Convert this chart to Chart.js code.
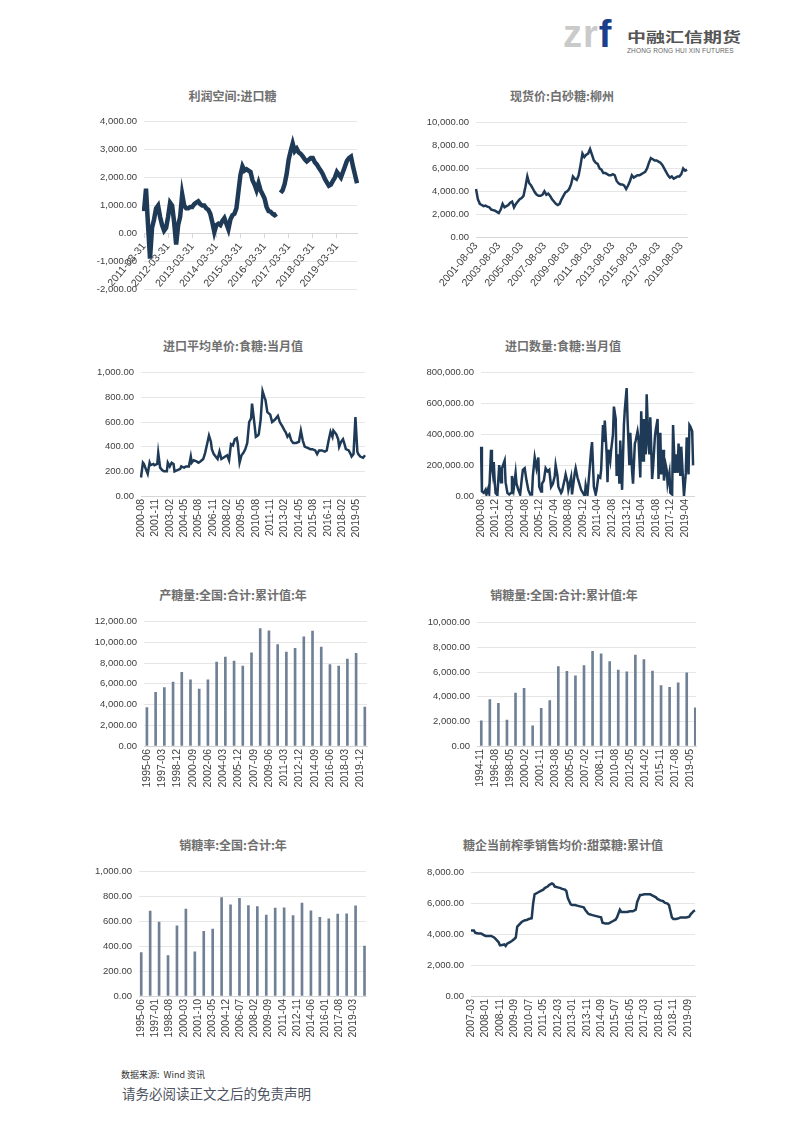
<!DOCTYPE html>
<html lang="zh-CN">
<head>
<meta charset="utf-8">
<title>食糖数据图表</title>
<script src="https://cdn.jsdelivr.net/npm/chart.js@4.4.1/dist/chart.umd.min.js"></script>
<style>
  html, body { margin: 0; padding: 0; background: #fff; }
  body { width: 793px; height: 1122px; position: relative; overflow: hidden; font-family: "Noto Sans CJK SC", "Noto Sans", sans-serif; }
  canvas { position: absolute; }
  .ttl { position: absolute; width: 320px; text-align: center; font-size: 12px; line-height: 17px; font-weight: bold; color: #6f6f6f; white-space: nowrap; }
  .logo { position: absolute; left: 563px; top: 15px; font: bold 38px/38px "Liberation Sans", Arial, sans-serif; white-space: nowrap; }
  .logo .zr { color: #cacaca; letter-spacing: 1px; }
  .logo .f { color: #1b3f8a; }
  .cn { position: absolute; left: 627px; top: 29px; font-size: 19px; line-height: 19px; font-weight: bold; color: #555; transform: scaleY(0.72); transform-origin: top left; white-space: nowrap; }
  .en { position: absolute; left: 627px; top: 47px; font: 6.5px/7px "Liberation Sans", Arial, sans-serif; color: #666; letter-spacing: 0.15px; white-space: nowrap; }
  .src { position: absolute; left: 121px; top: 1068px; font-size: 9px; color: #333; white-space: nowrap; }
  .note { position: absolute; left: 122px; top: 1083px; font-size: 13.5px; color: #4d5360; white-space: nowrap; }
</style>
</head>
<body>
<div class="logo"><span class="zr">zr</span><span class="f">f</span></div>
<div class="cn">中融汇信期货</div>
<div class="en">ZHONG RONG HUI XIN FUTURES</div>

<canvas id="c1"></canvas>
<canvas id="c2"></canvas>
<canvas id="c3"></canvas>
<canvas id="c4"></canvas>
<canvas id="c5"></canvas>
<canvas id="c6"></canvas>
<canvas id="c7"></canvas>
<canvas id="c8"></canvas>

<div class="src">数据来源:&nbsp; Wind 资讯</div>
<div class="note">请务必阅读正文之后的免责声明</div>

<script>
// 利润空间:进口糖 —— 月度取值, 2011-03 起
const spreadTicks = ['2011-03-31', '2012-03-31', '2013-03-31', '2014-03-31', '2015-03-31', '2016-03-31', '2017-03-31', '2018-03-31', '2019-03-31'];
const spreadValues = [
  800, 1600, 300, -900, 200, 500, 900, 1000, 600, 300,
  100, 200, 600, 1100, 1000, 400, -400, 300, 600, 1400,
  1000, 900, 900, 950, 950, 1050, 1100, 1150, 1050, 1000,
  1000, 900, 850, 700, 400, 50, 300, 350, 300, 450,
  550, 350, 150, 500, 650, 700, 900, 1500, 2100, 2400,
  2250, 2300, 2250, 2200, 1900, 1750, 1550, 1800, 1550, 1400,
  1250, 950, 800, 780, 700, 650, 700, null, 1450, 1550,
  1770, 2130, 2650, 2950, 3220, 2950, 3040, 2900, 2850, 2760,
  2650, 2580, 2640, 2700, 2700, 2550, 2470, 2350, 2250, 2120,
  1950, 1830, 1710, 1750, 1880, 2000, 2200, 2100, 2000, 2200,
  2400, 2600, 2700, 2750, 2400, 2100, 1800
];

// 现货价:白砂糖:柳州 —— 每两个月取值, 2001-08 起
const spotTicks = ['2001-08-03', '2003-08-03', '2005-08-03', '2007-08-03', '2009-08-03', '2011-08-03', '2013-08-03', '2015-08-03', '2017-08-03', '2019-08-03'];
const spotValues = [
  4200, 3300, 2900, 2800, 2700, 2750, 2650, 2600, 2400, 2350,
  2300, 2200, 2100, 2400, 2900, 2600, 2700, 2800, 3000, 3100,
  2600, 2900, 3100, 3300, 3400, 3600, 4400, 5300, 4700, 4500,
  4200, 3900, 3700, 3600, 3600, 3700, 4000, 3700, 3800, 3600,
  3300, 3100, 2900, 2800, 2900, 3300, 3600, 3900, 4000, 4200,
  4600, 5300, 5100, 5000, 5400, 6300, 7300, 7000, 7200, 7300,
  7700, 7200, 6700, 6500, 6400, 6000, 5900, 5600, 5600, 5500,
  5400, 5400, 5500, 5400, 4900, 4700, 4600, 4600, 4500, 4200,
  4500, 4900, 5400, 5200, 5300, 5400, 5400, 5500, 5600, 5700,
  6000, 6500, 6900, 6800, 6700, 6700, 6600, 6500, 6300, 6000,
  5700, 5400, 5200, 5300, 5100, 5200, 5300, 5300, 5500, 6000,
  5800, 5900
];

// 进口平均单价:食糖:当月值 —— 月份序号(2000-08 = 0)
const importPriceTicks = ['2000-08', '2001-11', '2003-02', '2004-05', '2005-08', '2006-11', '2008-02', '2009-05', '2010-08', '2011-11', '2013-02', '2014-05', '2015-08', '2016-11', '2018-02', '2019-05'];
const importPriceMonths = [
  0, 2, 3, 6, 7, 9, 10, 13, 14, 17, 18, 20, 22, 24, 27, 28, 30, 32, 34, 35,
  38, 41, 42, 45, 47, 50, 52, 53, 55, 58, 60, 62, 65, 67, 69, 71, 73, 74, 76, 79,
  80, 82, 84, 86, 88, 90, 92, 94, 96, 98, 100, 101, 103, 105, 107, 109, 111, 113, 115, 116,
  118, 120, 122, 123, 125, 127, 129, 130, 132, 135, 137, 140, 143, 145, 148, 150, 151, 153, 155, 157,
  159, 162, 165, 167, 169, 171, 174, 177, 179, 182, 184, 186, 189, 192, 194, 196, 198, 200, 201, 204,
  206, 207, 209, 211, 213, 214, 217, 219, 220, 222, 224, 226, 227, 229, 232, 234
];
const importPriceValues = [
  150, 270, 260, 200, 180, 270, 250, 260, 250, 260, 350, 230, 210, 200, 200, 270, 240, 270, 260, 200,
  210, 220, 240, 230, 240, 240, 320, 270, 290, 280, 270, 280, 300, 350, 420, 490, 440, 380, 340, 310,
  300, 360, 300, 310, 320, 330, 290, 420, 410, 460, 470, 430, 270, 330, 350, 380, 430, 600, 630, 750,
  620, 480, 490, 500, 620, 850, 800, 780, 680, 660, 600, 620, 650, 600, 560, 530, 520, 480, 500, 450,
  430, 430, 440, 530, 450, 400, 390, 380, 380, 370, 340, 370, 370, 360, 370, 450, 520, 480, 530, 500,
  460, 400, 440, 460, 410, 380, 370, 340, 320, 340, 640, 360, 340, 320, 310, 330
];

// 进口数量:食糖:当月值 —— 月份序号(2000-08 = 0)
const importQtyTicks = ['2000-08', '2001-12', '2003-04', '2004-08', '2005-12', '2007-04', '2008-08', '2009-12', '2011-04', '2012-08', '2013-12', '2015-04', '2016-08', '2017-12', '2019-04'];
const importQtyMonths = [
  0, 1, 3, 5, 6, 8, 9, 11, 12, 13, 14, 15, 16, 18, 20, 22, 23, 26, 27, 29,
  31, 33, 34, 36, 38, 39, 41, 43, 45, 46, 48, 50, 52, 54, 56, 57, 59, 61, 63, 64,
  66, 67, 69, 71, 73, 75, 77, 79, 81, 82, 84, 85, 88, 89, 92, 93, 95, 96, 99, 100,
  103, 104, 106, 108, 110, 112, 114, 115, 117, 119, 121, 122, 124, 126, 127, 129, 131, 132, 134, 135,
  136, 138, 139, 140, 142, 143, 145, 146, 148, 149, 151, 152, 153, 155, 157, 158, 160, 161, 163, 164,
  166, 167, 169, 170, 172, 173, 175, 176, 178, 179, 181, 182, 184, 185, 186, 188, 189, 191, 192, 194,
  195, 197, 198, 200, 201, 203, 204, 205, 207, 208, 210, 211, 213, 214, 216, 217, 219, 220, 222, 223,
  225, 226, 228, 229, 230, 232, 233
];
const importQtyValues = [
  320000, 30000, 20000, 40000, 10000, 50000, 20000, 300000, 200000, 150000,
  220000, 100000, 20000, 5000, 200000, 90000, 180000, 230000, 90000, 20000,
  10000, 20000, 130000, 50000, 150000, 80000, 40000, 10000, 120000, 170000,
  180000, 100000, 40000, 10000, 10000, 130000, 250000, 180000, 250000, 60000,
  30000, 80000, 100000, 180000, 160000, 170000, 60000, 80000, 130000, 200000,
  130000, 60000, 20000, 30000, 110000, 140000, 90000, 40000, 120000, 10000,
  150000, 180000, 120000, 80000, 40000, 20000, 0, 70000, 10000, 150000,
  300000, 350000, 60000, 10000, 40000, 130000, 120000, 170000, 460000, 350000,
  490000, 280000, 90000, 300000, 230000, 300000, 400000, 580000, 500000, 130000,
  270000, 80000, 360000, 40000, 460000, 560000, 700000, 500000, 200000, 410000,
  160000, 80000, 340000, 360000, 420000, 380000, 120000, 550000, 230000, 500000,
  270000, 660000, 330000, 270000, 510000, 110000, 180000, 380000, 430000, 500000,
  110000, 410000, 140000, 300000, 100000, 200000, 170000, 80000, 150000, 20000,
  10000, 460000, 150000, 270000, 150000, 340000, 130000, 320000, 100000, 0,
  150000, 380000, 140000, 460000, 450000, 420000, 200000
];

// 产糖量:全国:合计:累计值:年 —— 1995 至 2020 逐年
const outputTicks = ['1995-06', '1997-03', '1998-12', '2000-09', '2002-06', '2004-03', '2005-12', '2007-09', '2009-06', '2011-03', '2012-12', '2014-09', '2016-06', '2018-03', '2019-12'];
const outputValues = [3700, 5180, 5650, 6160, 7110, 6380, 5500, 6380, 8090, 8590, 8210, 7710, 9000, 11340, 11120, 9800, 9070, 9420, 10550, 11090, 9540, 7870, 7710, 8400, 8940, 3760];

// 销糖量:全国:合计:累计值:年
const salesTicks = ['1994-11', '1996-08', '1998-05', '2000-02', '2001-11', '2003-08', '2005-05', '2007-02', '2008-11', '2010-08', '2012-05', '2014-02', '2015-11', '2017-08', '2019-05'];
const salesValues = [2040, 3770, 3470, 2100, 4300, 4670, 1640, 3050, 3690, 6450, 6050, 5700, 6530, 7670, 7480, 6840, 6150, 6020, 7370, 7000, 6070, 4910, 4750, 5120, 5940, 3100];

// 销糖率:全国:合计:年
const salesRateTicks = ['1995-06', '1997-01', '1998-08', '2000-03', '2001-10', '2003-05', '2004-12', '2006-07', '2008-02', '2009-09', '2011-04', '2012-11', '2014-06', '2016-01', '2017-08', '2019-03'];
const salesRateValues = [350, 683, 594, 325, 565, 700, 356, 520, 538, 792, 733, 786, 728, 720, 652, 707, 710, 646, 747, 686, 633, 620, 660, 662, 726, 401];

// 糖企当前榨季销售均价:甜菜糖:累计值 —— 月份序号(2007-03 = 0)
const beetTicks = ['2007-03', '2008-01', '2008-11', '2009-09', '2010-07', '2011-05', '2012-03', '2013-01', '2013-11', '2014-09', '2015-07', '2016-05', '2017-03', '2018-01', '2018-11', '2019-09'];
const beetMonths = [
  0, 2, 3, 5, 7, 8, 10, 12, 14, 16, 17, 19, 20, 21, 23, 24, 25, 27, 28, 30,
  31, 32, 34, 35, 37, 39, 40, 42, 43, 44, 46, 48, 50, 51, 53, 54, 56, 57, 58, 60,
  62, 63, 65, 66, 67, 69, 70, 72, 74, 76, 78, 79, 81, 82, 84, 86, 88, 90, 91, 93,
  95, 96, 98, 100, 101, 103, 104, 106, 108, 110, 112, 114, 115, 117, 118, 120, 122, 124, 126, 128,
  129, 131, 133, 134, 136, 137, 139, 140, 142, 144, 145, 147, 149, 151, 152, 154, 155
];
const beetValues = [
  4250, 4250, 4100, 4050, 4050, 4000, 3900, 3900, 3900, 3800, 3700, 3500, 3300, 3300, 3350, 3250, 3400, 3500, 3550, 3700,
  3800, 4500, 4700, 4800, 4900, 4950, 5000, 5050, 6000, 6600, 6700, 6800, 6900, 7000, 7100, 7200, 7300, 7250, 7100, 7050,
  7000, 6950, 6900, 6800, 6350, 5950, 5900, 5900, 5850, 5800, 5750, 5600, 5350, 5300, 5250, 5200, 5150, 5100, 4750, 4700,
  4700, 4750, 4850, 4950, 5100, 5600, 5450, 5450, 5450, 5500, 5500, 5600, 6100, 6550, 6550, 6600, 6600, 6600, 6500, 6400,
  6300, 6200, 6150, 6050, 6000, 5900, 5100, 5000, 5000, 5050, 5100, 5100, 5100, 5150, 5300, 5500, 5550
];

// 样式
const NAVY = '#1f3a56';
const BAR = '#708196';
const GRID = '#e6e6e6';
const AXIS = '#d6d6d6';
const TXT = '#404040';

Chart.defaults.font.family = '"Liberation Sans", Arial, sans-serif';

function money(v) {
  return Number(v).toLocaleString('en-US', { minimumFractionDigits: 2, maximumFractionDigits: 2 });
}

// 把按月份序号记录的点放进逐月的类别轴
function byMonth(n, months, values) {
  const out = new Array(n).fill(null);
  months.forEach((m, i) => { out[m] = values[i]; });
  return out;
}

// 年度数据:从 first 开始每 12 个月一个柱
function yearly(n, first, values) {
  const out = new Array(n).fill(null);
  values.forEach((v, i) => { out[first + 12 * i] = v; });
  return out;
}

function tickLabel(ticks, first, every) {
  return (value, index) => {
    const k = index - first;
    if (k < 0 || k % every !== 0) return '';
    return ticks[k / every] || '';
  };
}

function makeChart(id, f, type, values, n, axis, dataset) {
  const title = document.createElement('div');
  title.className = 'ttl';
  title.textContent = f.title;
  title.style.left = (f.tx - 160) + 'px';
  title.style.top = (f.ty - 8.5) + 'px';
  document.body.appendChild(title);

  const canvas = document.getElementById(id);
  const yw = 75, padR = 8, padT = 10;
  const left = f.l - yw;
  const top = f.t - padT;
  canvas.width = f.r + padR - left;
  canvas.height = f.bottom - top;
  canvas.style.left = left + 'px';
  canvas.style.top = top + 'px';

  return new Chart(canvas, {
    type: type,
    data: {
      labels: Array.from({ length: n }, (_, i) => i),
      datasets: [Object.assign({ data: values }, dataset)]
    },
    options: {
      responsive: false,
      animation: false,
      layout: { autoPadding: false, padding: { left: 0, right: padR, top: padT, bottom: f.zeroAxis ? f.bottom - f.b : 0 } },
      plugins: {
        legend: { display: false },
        tooltip: { enabled: false },
        title: { display: false }
      },
      scales: {
        x: {
          type: 'category',
          position: f.zeroAxis ? { y: 0 } : 'bottom',
          offset: false,
          grid: {
            display: true,
            drawOnChartArea: false,
            drawTicks: !!f.tickMarks,
            tickLength: 4,
            color: (ctx) => (ctx.tick && ctx.tick.label ? AXIS : 'rgba(0,0,0,0)')
          },
          border: { display: true, color: AXIS },
          ticks: {
            autoSkip: false,
            minRotation: axis.rot,
            maxRotation: axis.rot,
            padding: 3,
            color: TXT,
            font: { size: 10.5 },
            callback: tickLabel(axis.ticks, axis.first, axis.every)
          },
          afterFit: (s) => {
            // 标签溢出的留白由外层画布负责
            s.paddingLeft = 0;
            s.paddingRight = 0;
            if (!f.zeroAxis) s.height = f.bottom - f.b;
          }
        },
        y: {
          min: axis.min,
          max: axis.max,
          ticks: { stepSize: axis.step, padding: 7, color: TXT, font: { size: 9.5 }, callback: (v) => money(v) },
          grid: { color: GRID, drawTicks: false },
          border: { display: false },
          afterFit: (s) => { s.width = yw; }
        }
      }
    }
  });
}

const lineStyle = (w, gaps) => ({ borderColor: NAVY, borderWidth: w, pointRadius: 0, tension: 0, fill: false, spanGaps: gaps });
const barStyle = { backgroundColor: BAR, barThickness: 2 };

// 1 利润空间
makeChart('c1',
  { title: '利润空间:进口糖', tx: 232.5, ty: 95, l: 144, r: 357, t: 119, b: 292, bottom: 302, zeroAxis: true, tickMarks: true },
  'line', spreadValues, spreadValues.length,
  { rot: 50, ticks: spreadTicks, first: 0, every: 12, min: -2000, max: 4000, step: 1000 },
  lineStyle(4.5, false));

// 2 柳州现货价
makeChart('c2',
  { title: '现货价:白砂糖:柳州', tx: 562, ty: 95, l: 476, r: 687, t: 120, b: 237, bottom: 300 },
  'line', spotValues, spotValues.length,
  { rot: 50, ticks: spotTicks, first: 0, every: 12, min: 0, max: 10000, step: 2000 },
  lineStyle(2.5, true));

// 3 进口平均单价
makeChart('c3',
  { title: '进口平均单价:食糖:当月值', tx: 233, ty: 345, l: 141, r: 365, t: 370, b: 496, bottom: 550 },
  'line', byMonth(235, importPriceMonths, importPriceValues), 235,
  { rot: 90, ticks: importPriceTicks, first: 0, every: 15, min: 0, max: 1000, step: 200 },
  lineStyle(2.5, true));

// 4 进口数量
makeChart('c4',
  { title: '进口数量:食糖:当月值', tx: 563, ty: 345, l: 481, r: 694, t: 370, b: 496, bottom: 550 },
  'line', byMonth(235, importQtyMonths, importQtyValues), 235,
  { rot: 90, ticks: importQtyTicks, first: 0, every: 16, min: 0, max: 800000, step: 200000 },
  lineStyle(2.5, true));

// 5 产糖量 (类别轴 1995-02 起逐月)
makeChart('c5',
  { title: '产糖量:全国:合计:累计值:年', tx: 233, ty: 594, l: 144, r: 367, t: 619, b: 746, bottom: 800 },
  'bar', yearly(308, 4, outputValues), 308,
  { rot: 90, ticks: outputTicks, first: 4, every: 21, min: 0, max: 12000, step: 2000 },
  barStyle);

// 6 销糖量 (类别轴 1994-06 起逐月)
makeChart('c6',
  { title: '销糖量:全国:合计:累计值:年', tx: 564, ty: 594, l: 477, r: 696, t: 620, b: 746, bottom: 800 },
  'bar', yearly(308, 6, salesValues), 308,
  { rot: 90, ticks: salesTicks, first: 5, every: 21, min: 0, max: 10000, step: 2000 },
  barStyle);

// 7 销糖率 (类别轴 1995-03 起逐月)
makeChart('c7',
  { title: '销糖率:全国:合计:年', tx: 233, ty: 844, l: 139, r: 366, t: 869, b: 996, bottom: 1050 },
  'bar', yearly(306, 3, salesRateValues), 306,
  { rot: 90, ticks: salesRateTicks, first: 3, every: 19, min: 0, max: 1000, step: 200 },
  barStyle);

// 8 甜菜糖销售均价
makeChart('c8',
  { title: '糖企当前榨季销售均价:甜菜糖:累计值', tx: 563, ty: 844, l: 471, r: 695, t: 870, b: 996, bottom: 1050 },
  'line', byMonth(156, beetMonths, beetValues), 156,
  { rot: 90, ticks: beetTicks, first: 0, every: 10, min: 0, max: 8000, step: 2000 },
  lineStyle(2.5, true));
</script>
</body>
</html>
